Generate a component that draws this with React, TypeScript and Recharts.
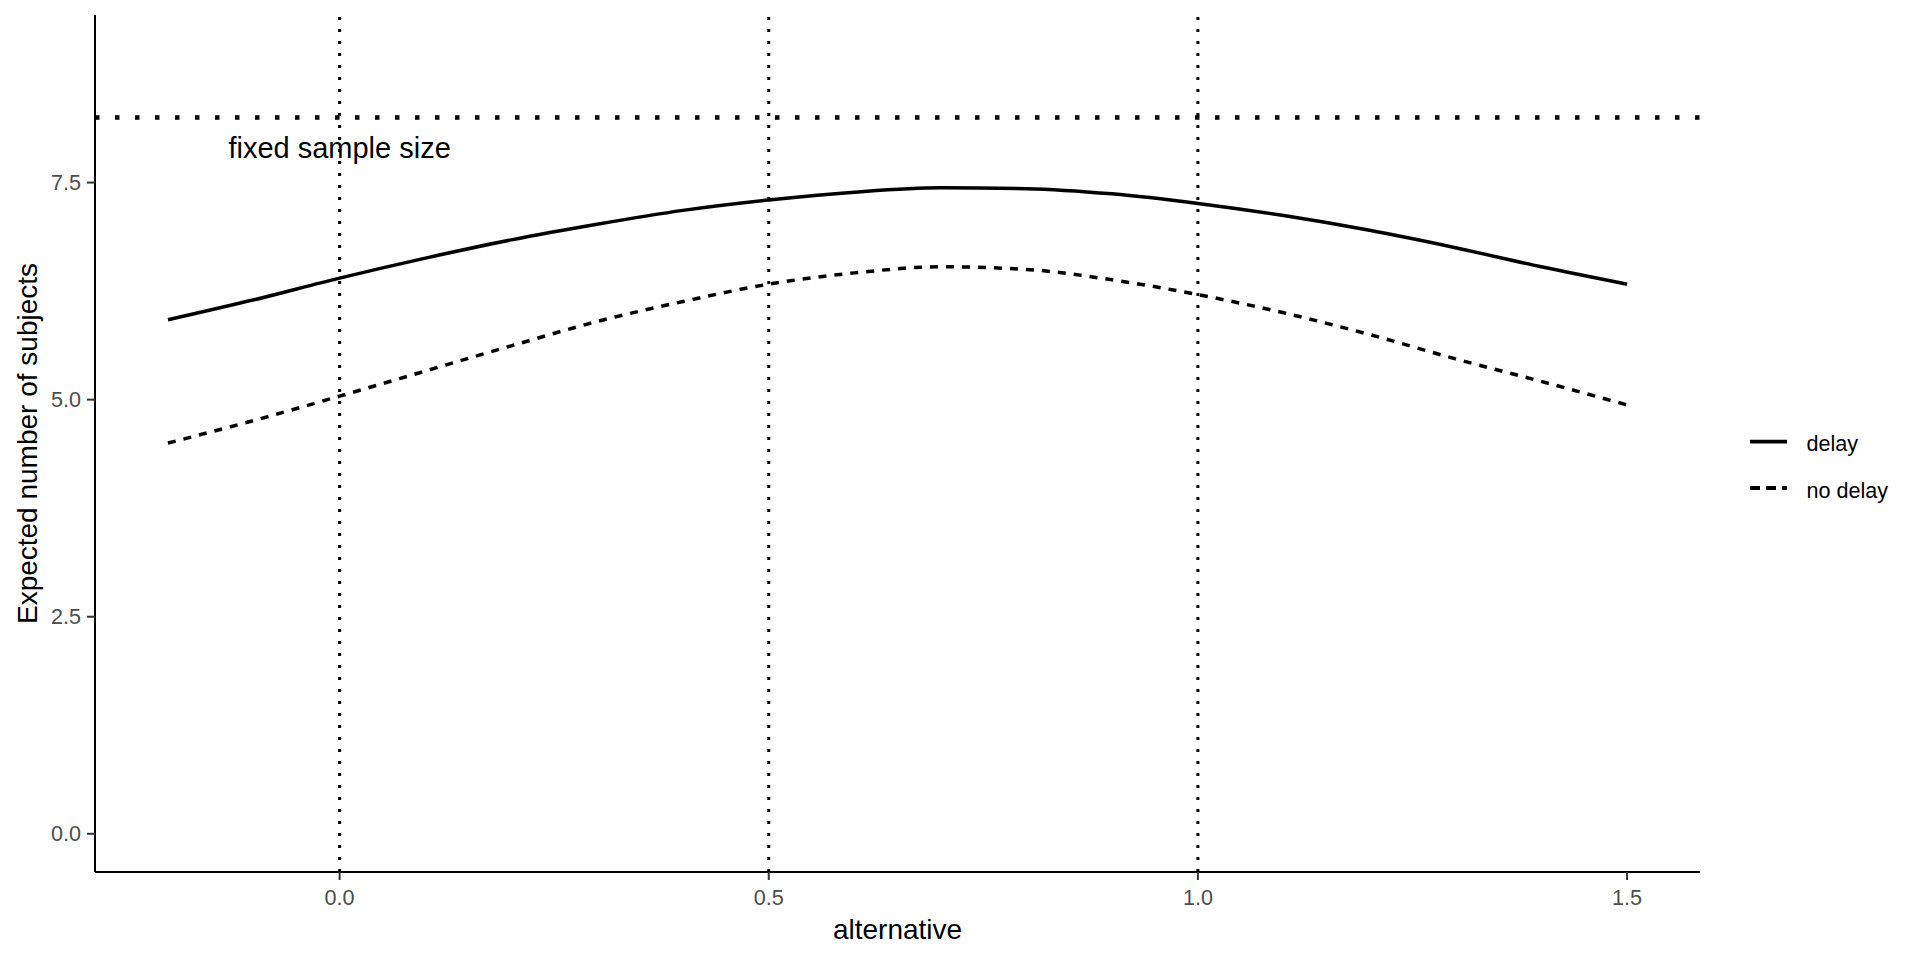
import React from 'react'
import {
  LineChart,
  Line,
  XAxis,
  YAxis,
  ReferenceLine,
  ReferenceDot,
  Legend
} from 'recharts'

const alternative = [-0.2, -0.1, 0, 0.1, 0.2, 0.3, 0.4, 0.5, 0.6, 0.7, 0.8, 0.9, 1.0, 1.1, 1.2, 1.3, 1.4, 1.5]
const delay = [5.92, 6.15, 6.4, 6.63, 6.84, 7.02, 7.18, 7.3, 7.39, 7.44, 7.43, 7.37, 7.26, 7.12, 6.95, 6.75, 6.53, 6.33]
const noDelay = [4.5, 4.76, 5.04, 5.33, 5.62, 5.9, 6.13, 6.33, 6.46, 6.53, 6.5, 6.38, 6.21, 6.0, 5.75, 5.47, 5.21, 4.94]

const xTicks = [0, 0.5, 1, 1.5]
const yTicks = [0, 2.5, 5, 7.5]
const alternativeLines = [0, 0.5, 1]
const fixedSampleSize = 8.25
const fixedLabel = { x: 0, y: 7.9, text: 'fixed sample size' }

const seriesKeys = ['delay', 'noDelay']
const seriesNames = ['delay', 'no delay']
const seriesDash = ['', '8 8']
const legendDash = ['', '10 6']

const FONT = '"Liberation Sans", Arial, sans-serif'
const W = 1920
const H = 960
const PLOT_TOP = 15
const PLOT_BOTTOM = 872

const rows = alternative.map((a, i) => ({ alternative: a, delay: delay[i], noDelay: noDelay[i] }))

function renderLegend(props: any) {
  const payload = props.payload || []
  return (
    <svg width={180} height={110} style={{ display: 'block' }}>
      {payload.map((entry: any, i: number) => {
        const idx = seriesKeys.indexOf(entry.dataKey)
        const y = 41.7 + i * 46.3
        return (
          <g key={entry.value}>
            <line
              x1={10}
              x2={47}
              y1={y}
              y2={y}
              stroke="#000"
              strokeWidth={3.8}
              strokeDasharray={legendDash[idx] || undefined}
            />
            <text x={66.5} y={y + 9.5} fontSize={21.6} fontFamily={FONT} fill="#000">
              {entry.value}
            </text>
          </g>
        )
      })}
    </svg>
  )
}

export default function App() {
  const yTitleY = PLOT_TOP + (PLOT_BOTTOM - PLOT_TOP) / 2
  return (
    <div style={{ position: 'absolute', left: 0, top: 0, width: W, height: H, background: '#fff' }}>
      <LineChart
        width={W}
        height={H}
        data={rows}
        margin={{ top: PLOT_TOP, right: 220, bottom: 0, left: 0 }}
        style={{ fontFamily: FONT }}
      >
        <XAxis
          dataKey="alternative"
          type="number"
          domain={[-0.285, 1.585]}
          ticks={xTicks}
          tickFormatter={(v: number) => v.toFixed(1)}
          allowDataOverflow
          height={88}
          tickSize={8}
          tickMargin={10}
          axisLine={{ stroke: '#000', strokeWidth: 2 }}
          tickLine={{ stroke: '#333', strokeWidth: 2 }}
          tick={{ fontSize: 21.6, fill: '#4d4d4d', fontFamily: FONT }}
          label={{ value: 'alternative', position: 'insideBottom', offset: 21, fontSize: 28, fill: '#000', fontFamily: FONT }}
        />
        <YAxis
          type="number"
          domain={[-0.44, 9.43]}
          ticks={yTicks}
          tickFormatter={(v: number) => v.toFixed(1)}
          allowDataOverflow
          width={95}
          tickSize={8}
          tickMargin={6}
          axisLine={{ stroke: '#000', strokeWidth: 2 }}
          tickLine={{ stroke: '#333', strokeWidth: 2 }}
          tick={{ fontSize: 21.6, fill: '#4d4d4d', fontFamily: FONT }}
          label={{
            content: () => (
              <text
                x={37}
                y={yTitleY}
                transform={`rotate(-90, 37, ${yTitleY})`}
                textAnchor="middle"
                fontSize={28}
                fontFamily={FONT}
                fill="#000"
              >
                Expected number of subjects
              </text>
            )
          }}
        />
        {alternativeLines.map((x) => (
          <ReferenceLine key={x} x={x} stroke="#000" strokeWidth={3} strokeDasharray="3 9" />
        ))}
        <ReferenceLine y={fixedSampleSize} stroke="#000" strokeWidth={4.5} strokeDasharray="4.5 15.5" />
        <ReferenceDot
          x={fixedLabel.x}
          y={fixedLabel.y}
          r={0}
          fill="none"
          stroke="none"
          label={{ value: fixedLabel.text, position: 'center', fontSize: 29, fill: '#000', fontFamily: FONT }}
        />
        {seriesKeys.map((k, i) => (
          <Line
            key={k}
            dataKey={k}
            name={seriesNames[i]}
            type="monotone"
            stroke="#000"
            strokeWidth={3.5}
            strokeDasharray={seriesDash[i] || undefined}
            dot={false}
            activeDot={false}
            isAnimationActive={false}
          />
        ))}
        <Legend
          layout="vertical"
          align="center"
          verticalAlign="middle"
          wrapperStyle={{ left: 1740, top: 400, width: 180, height: 110 }}
          content={renderLegend}
        />
      </LineChart>
    </div>
  )
}
